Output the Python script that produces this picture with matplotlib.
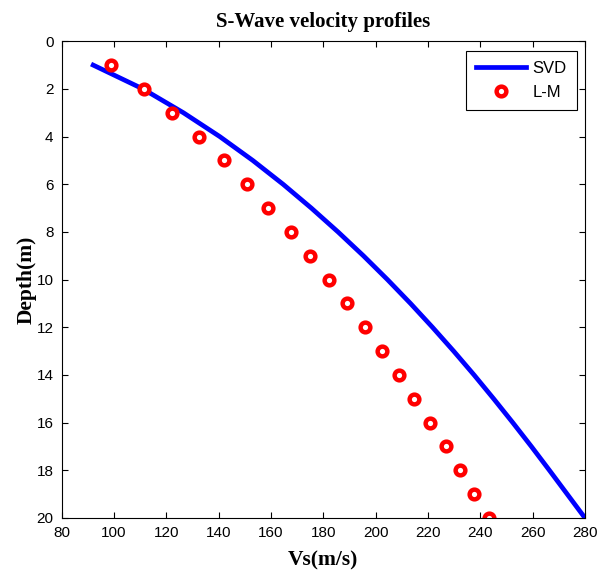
import matplotlib
matplotlib.use('Agg')
import matplotlib.pyplot as plt

depth = [1, 2, 3, 4, 5, 6, 7, 8, 9, 10, 11, 12, 13, 14, 15, 16, 17, 18, 19, 20]
vs_svd = [92, 111, 126.5, 140.4, 153, 164.6, 175.4, 185.6, 195.3, 204.5,
          213.3, 221.7, 229.8, 237.6, 245.1, 252.4, 259.5, 266.4, 273.2, 280]
vs_lm = [98.7, 111.4, 122.3, 132.5, 142, 150.9, 159, 167.5, 174.8, 182.1,
         189, 196, 202.4, 208.8, 214.6, 220.7, 226.7, 232.2, 237.7, 243.3]

tick_font = ['Liberation Sans Narrow', 'Liberation Sans']
label_font = 'Liberation Serif'

fig = plt.figure(figsize=(6, 5.73), dpi=100)
ax = fig.add_axes([0.103, 0.096, 0.872, 0.832])

ax.plot(vs_svd, depth, color='blue', linewidth=3.4, label='SVD',
        solid_joinstyle='round')
ax.plot(vs_lm, depth, 'o', color='red', markerfacecolor='white',
        markersize=7, markeredgewidth=3.2, linestyle='none', label='L-M')

ax.set_xlim(80, 280)
ax.set_ylim(20, 0)
ax.set_xticks(range(80, 281, 20))
ax.set_yticks(range(0, 21, 2))
ax.tick_params(direction='in', top=True, right=True, length=4,
               labelsize=11, pad=6)
for lab in ax.get_xticklabels() + ax.get_yticklabels():
    lab.set_family(tick_font)

ax.set_title('S-Wave velocity profiles', family=label_font,
             fontweight='bold', fontsize=15, pad=10)
ax.set_xlabel('Vs(m/s)', family=label_font, fontweight='bold',
              fontsize=15.5, labelpad=7)
ax.set_ylabel('Depth(m)', family=label_font, fontweight='bold',
              fontsize=15.5, labelpad=0)

leg = ax.legend(loc='upper right', bbox_to_anchor=(0.984, 0.98),
                borderaxespad=0, fancybox=False, edgecolor='black',
                framealpha=1, prop={'family': tick_font, 'size': 12},
                handlelength=3, handletextpad=0.4, labelspacing=0.55,
                borderpad=0.6)
leg.get_frame().set_linewidth(0.8)

plt.savefig('out.png', dpi=100)
